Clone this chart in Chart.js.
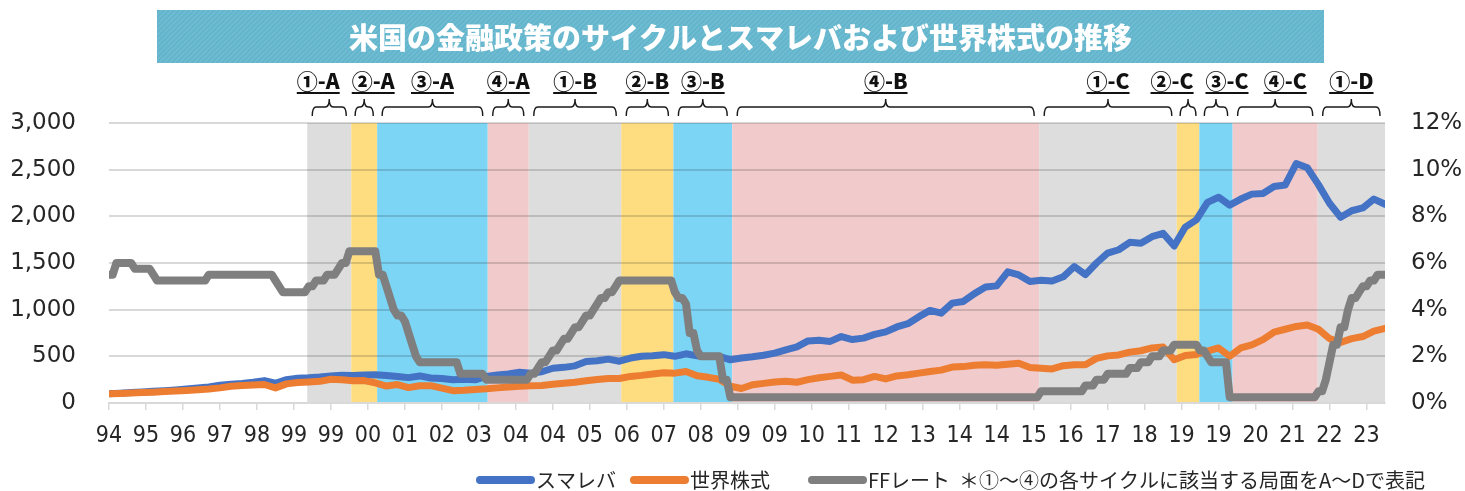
<!DOCTYPE html>
<html>
<head>
<meta charset="utf-8">
<script src="https://cdn.jsdelivr.net/npm/chart.js@4.4.0/dist/chart.umd.min.js"></script>
<style>
  html, body { margin: 0; padding: 0; background: #fff; }
  #wrap { width: 1465px; height: 491px; }
</style>
</head>
<body>
<div id="wrap"><canvas id="cycleChart" width="1465" height="491"></canvas></div>
<script>
// months counted from Dec 1994 (0) to Sep 2023 (345)
const chartTitle = '米国の金融政策のサイクルとスマレバおよび世界株式の推移';
const xTickLabels = ['94','95','96','97','98','99','99','00','01','02','03','04','04','05','06','07','08','09','09','10','11','12','13','14','14','15','16','17','18','19','19','20','21','22','23'];
const tickEvery = 10;
const lastMonth = 345;

// equity series, one value every 3 months
const stepMonths = 3;
const smaLevValues = [
  100,105,112,118,125,132,140,150,160,172,190,200,208,222,240,212,250,265,270,278,
  290,298,295,300,302,295,285,272,290,268,262,250,255,248,285,300,310,330,320,335,
  372,382,398,445,452,470,448,482,500,506,518,500,527,505,498,500,463,482,495,512,
  535,570,602,665,672,660,712,680,695,735,762,815,850,925,992,962,1070,1088,1172,1242,
  1255,1405,1372,1302,1315,1308,1352,1462,1375,1500,1605,1642,1722,1712,1782,1818,1682,1885,1962,2150,
  2205,2120,2185,2238,2245,2320,2335,2565,2520,2340,2140,1990,2060,2090,2185,2130
];
const worldValues = [
  100,103,108,112,116,122,128,135,142,150,162,180,188,192,198,162,205,220,225,232,
  255,250,238,240,215,182,198,165,185,186,160,132,136,145,152,162,172,180,185,188,
  200,212,222,238,252,262,262,285,296,310,325,320,338,292,275,255,180,155,195,210,
  225,232,222,250,270,285,300,245,250,285,258,290,302,320,338,352,385,390,405,410,
  405,415,425,380,372,365,400,410,410,478,505,515,545,560,590,600,463,510,520,555,
  590,500,590,623,680,760,790,820,835,790,690,650,690,712,770,800
];

// FF rate (%), value at each change month
const ffMonth = [0,1,2,6,7,11,12,13,26,27,44,45,46,47,53,54,55,56,58,59,61,62,63,64,65,72,73,74,75,76,77,78,79,80,81,82,83,84,94,95,101,102,113,114,115,116,117,118,119,120,121,122,123,124,125,126,127,128,129,130,131,132,133,134,135,136,137,138,152,153,154,155,156,157,158,159,160,165,166,167,168,251,252,263,264,266,267,269,270,275,276,278,279,281,282,284,285,287,288,294,295,296,297,298,302,303,326,327,328,329,330,331,332,333,334,335,336,337,338,339,340,341,342,343,345];
const ffRate = [5.5,5.5,6.0,6.0,5.75,5.75,5.5,5.25,5.25,5.5,5.5,5.25,5.0,4.75,4.75,5.0,5.0,5.25,5.25,5.5,5.5,5.75,6.0,6.0,6.5,6.5,5.5,5.5,5.0,4.5,4.0,3.75,3.75,3.5,3.0,2.5,2.0,1.75,1.75,1.25,1.25,1.0,1.0,1.25,1.25,1.5,1.75,1.75,2.0,2.25,2.25,2.5,2.75,2.75,3.0,3.25,3.25,3.5,3.75,3.75,4.0,4.25,4.5,4.5,4.75,4.75,5.0,5.25,5.25,4.75,4.5,4.5,4.25,3.0,3.0,2.25,2.0,2.0,1.0,1.0,0.25,0.25,0.5,0.5,0.75,0.75,1.0,1.0,1.25,1.25,1.5,1.5,1.75,1.75,2.0,2.0,2.25,2.25,2.5,2.5,2.25,2.25,2.0,1.75,1.75,0.25,0.25,0.5,0.5,1.0,1.75,2.5,2.5,3.25,3.25,4.0,4.5,4.5,4.75,5.0,5.0,5.25,5.25,5.5,5.5];

// policy cycle phases
const phaseLabels = ['①-A','②-A','③-A','④-A','①-B','②-B','③-B','④-B','①-C','②-C','③-C','④-C','①-D'];
const phaseStart = [53.6,65.5,72.5,102.4,113.5,138.5,152.6,168.5,251.5,288.7,294.8,303.8,326.8];
const phaseEnd = [65.5,72.5,102.4,113.5,138.5,152.6,168.5,251.5,288.7,294.8,303.8,326.8,345];
const phaseKind = [1,2,3,4,1,2,3,4,1,2,3,4,1];

const legendNote = '＊①～④の各サイクルに該当する局面をA～Dで表記';

const phaseColors = { 1: '#dddddd', 2: '#fddd80', 3: '#7dd5f6', 4: '#f1cacc' };
const labelShift = [-11, 9, 0, 0, 0, 0, 0, 0, 0, -16, 11, 10, 0];
const jpFont = '"Noto Sans CJK JP", "Noto Sans", sans-serif';

function toPoints(values) {
  return values.map((v, i) => ({ x: i * stepMonths, y: v }));
}

const decorPlugin = {
  id: 'decor',
  beforeDraw(chart) {
    const { ctx, chartArea, scales } = chart;
    ctx.save();
    phaseStart.forEach((s, i) => {
      const x1 = scales.x.getPixelForValue(s);
      const x2 = scales.x.getPixelForValue(phaseEnd[i]);
      ctx.fillStyle = phaseColors[phaseKind[i]];
      ctx.fillRect(x1, chartArea.top, x2 - x1, chartArea.bottom - chartArea.top);
    });
    ctx.restore();
  },
  afterDraw(chart) {
    const { ctx, scales } = chart;

    // title banner
    const bx = 157, by = 10, bw = 1167, bh = 53;
    ctx.save();
    ctx.beginPath();
    ctx.rect(bx, by, bw, bh);
    ctx.clip();
    ctx.fillStyle = '#62b5cc';
    ctx.fillRect(bx, by, bw, bh);
    ctx.strokeStyle = 'rgba(255,255,255,0.12)';
    ctx.lineWidth = 1.2;
    for (let i = -bh; i < bw + bh; i += 5) {
      ctx.beginPath();
      ctx.moveTo(bx + i, by + bh);
      ctx.lineTo(bx + i + bh, by);
      ctx.stroke();
    }
    ctx.restore();
    ctx.save();
    ctx.fillStyle = '#ffffff';
    ctx.font = '900 29px ' + jpFont;
    ctx.textAlign = 'center';
    ctx.textBaseline = 'middle';
    ctx.fillText(chartTitle, bx + bw / 2, by + bh / 2 + 1);
    ctx.restore();

    // phase labels and braces
    ctx.save();
    phaseLabels.forEach((label, i) => {
      const x1 = scales.x.getPixelForValue(phaseStart[i]);
      const x2 = scales.x.getPixelForValue(phaseEnd[i]);
      const mid = (x1 + x2) / 2;
      const inset = Math.min(5, (x2 - x1) * 0.15);
      const l = x1 + inset, r = x2 - inset;
      const yLine = 107, yEnd = 116, yTip = 99, rad = Math.min(4, (r - l) / 4);
      ctx.strokeStyle = '#1a1a1a';
      ctx.lineWidth = 1.4;
      ctx.beginPath();
      ctx.moveTo(l, yEnd);
      ctx.quadraticCurveTo(l, yLine, l + rad, yLine);
      ctx.lineTo(mid - rad, yLine);
      ctx.quadraticCurveTo(mid, yLine, mid, yTip);
      ctx.quadraticCurveTo(mid, yLine, mid + rad, yLine);
      ctx.lineTo(r - rad, yLine);
      ctx.quadraticCurveTo(r, yLine, r, yEnd);
      ctx.stroke();

      const tx = mid + labelShift[i];
      ctx.font = '900 21px ' + jpFont;
      ctx.fillStyle = '#111111';
      ctx.textAlign = 'center';
      ctx.textBaseline = 'alphabetic';
      ctx.fillText(label, tx, 89);
      const w = ctx.measureText(label).width;
      ctx.fillRect(tx - w / 2, 92, w, 2);
    });
    ctx.restore();

    // legend
    ctx.save();
    const ly = 480;
    const items = [
      { x: 476, color: '#4472c4', text: chart.data.datasets[0].label },
      { x: 630, color: '#ed7d31', text: chart.data.datasets[1].label },
      { x: 808, color: '#7f7f7f', text: chart.data.datasets[2].label }
    ];
    ctx.font = '20px ' + jpFont;
    ctx.textBaseline = 'middle';
    ctx.textAlign = 'left';
    items.forEach(it => {
      ctx.strokeStyle = it.color;
      ctx.lineWidth = 8;
      ctx.lineCap = 'round';
      ctx.beginPath();
      ctx.moveTo(it.x + 4, ly);
      ctx.lineTo(it.x + 55, ly);
      ctx.stroke();
      ctx.fillStyle = '#262626';
      ctx.fillText(it.text, it.x + 60, ly);
    });
    ctx.fillText(legendNote, 959, ly);
    ctx.restore();
  }
};

const ctx = document.getElementById('cycleChart').getContext('2d');
new Chart(ctx, {
  type: 'line',
  data: {
    datasets: [
      {
        label: 'スマレバ',
        data: toPoints(smaLevValues),
        yAxisID: 'y',
        borderColor: '#4472c4',
        borderWidth: 7,
        order: 2
      },
      {
        label: '世界株式',
        data: toPoints(worldValues),
        yAxisID: 'y',
        borderColor: '#ed7d31',
        borderWidth: 7,
        order: 1
      },
      {
        label: 'FFレート',
        data: ffMonth.map((m, i) => ({ x: m, y: ffRate[i] })),
        yAxisID: 'y2',
        borderColor: '#7f7f7f',
        borderWidth: 8,
        order: 0
      }
    ]
  },
  options: {
    responsive: false,
    animation: false,
    devicePixelRatio: 1,
    layout: { padding: { top: 123, left: 0, right: 0, bottom: 0 } },
    elements: {
      point: { radius: 0, hoverRadius: 0 },
      line: { tension: 0, borderJoinStyle: 'round', borderCapStyle: 'round', fill: false }
    },
    plugins: {
      legend: { display: false },
      tooltip: { enabled: false },
      title: { display: false }
    },
    scales: {
      x: {
        type: 'linear',
        min: 0,
        max: lastMonth,
        afterFit: s => { s.height = 88; },
        border: { display: true, color: '#d9d9d9', width: 2 },
        grid: { drawOnChartArea: false, drawTicks: true, tickLength: 7, color: '#d9d9d9', lineWidth: 1.5 },
        ticks: {
          stepSize: tickEvery,
          autoSkip: false,
          includeBounds: false,
          maxRotation: 0,
          padding: 12,
          color: '#262626',
          font: { family: '"DejaVu Sans Condensed", "DejaVu Sans"', size: 23 },
          callback: v => {
            const k = v / tickEvery;
            return Number.isInteger(k) && xTickLabels[k] !== undefined ? xTickLabels[k] : null;
          }
        }
      },
      y: {
        position: 'left',
        min: 0,
        max: 3000,
        afterFit: s => { s.width = 109; },
        border: { display: false },
        grid: { color: 'rgba(0,0,0,0.15)', lineWidth: 2, drawTicks: false },
        ticks: {
          stepSize: 500,
          padding: 33,
          color: '#262626',
          font: { family: '"DejaVu Sans"', size: 23 },
          callback: v => v.toLocaleString('en-US')
        }
      },
      y2: {
        position: 'right',
        min: 0,
        max: 12,
        afterFit: s => { s.width = 80; },
        border: { display: false },
        grid: { display: false, drawTicks: false },
        ticks: {
          stepSize: 2,
          padding: 26,
          color: '#262626',
          font: { family: '"DejaVu Sans"', size: 23 },
          callback: v => v + '%'
        }
      }
    }
  },
  plugins: [decorPlugin]
});
</script>
</body>
</html>
